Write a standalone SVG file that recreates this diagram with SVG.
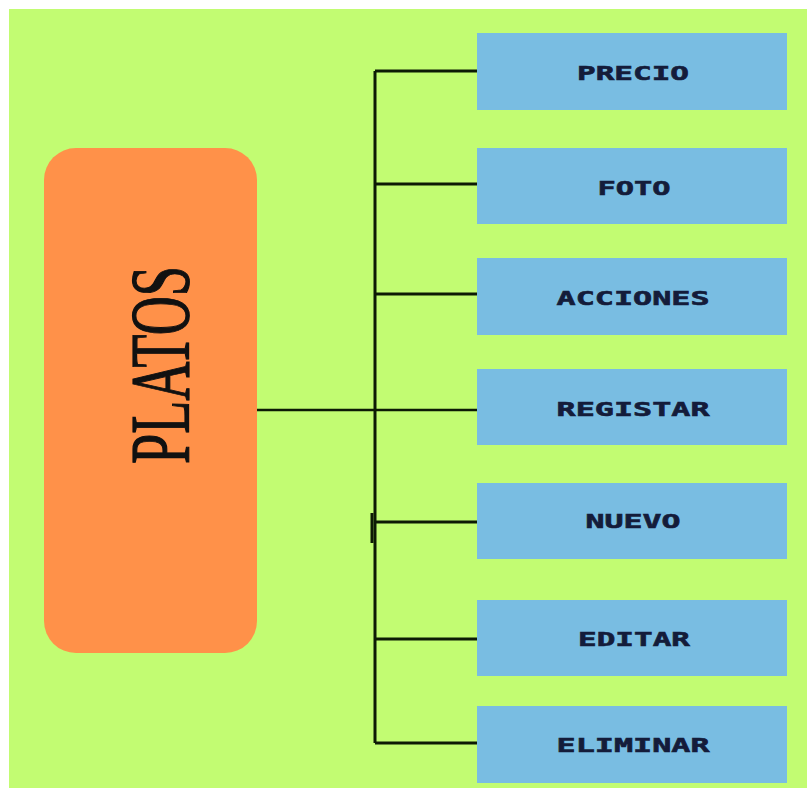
<svg xmlns="http://www.w3.org/2000/svg" width="807" height="789" viewBox="0 0 807 789">
<style>
.box{fill:#79bde2}
.lbl{font-family:"DejaVu Sans Mono","Liberation Mono",monospace;font-weight:bold;font-size:20px;fill:#141c3a;stroke:#141c3a;stroke-width:0.6;text-anchor:middle}
.ln{stroke:#0d1a05;stroke-width:3;fill:none}
</style>
<rect x="0" y="0" width="807" height="789" fill="#ffffff"/>
<rect x="9" y="9" width="798" height="779" fill="#c2fc72"/>
<g id="connectors">
<path class="ln" d="M375 71 V743 M375 71 H477 M375 184 H477 M375 294 H477 M375 522 H477 M375 639 H477 M375 743 H477"/>
<path class="ln" d="M257 410 H477" style="stroke-width:2.5"/>
<path class="ln" d="M372 513 V543" style="stroke-width:3"/>
</g>
<g id="platos">
<rect x="44" y="148" width="213" height="505" rx="32" fill="#ff9149"/>
<text transform="translate(189 365) rotate(-90)" text-anchor="middle" font-family="Liberation Serif, serif" font-size="84" fill="#111" stroke="#111" stroke-width="1.2" textLength="198" lengthAdjust="spacingAndGlyphs">PLATOS</text>
</g>
<g id="precio"><rect class="box" x="477" y="33" width="310" height="77"/><text class="lbl" x="633" y="80" textLength="112" lengthAdjust="spacingAndGlyphs">PRECIO</text></g>
<g id="foto"><rect class="box" x="477" y="148" width="310" height="76"/><text class="lbl" x="634" y="195" textLength="73" lengthAdjust="spacingAndGlyphs">FOTO</text></g>
<g id="acciones"><rect class="box" x="477" y="258" width="310" height="77"/><text class="lbl" x="633" y="305" textLength="153" lengthAdjust="spacingAndGlyphs">ACCIONES</text></g>
<g id="registar"><rect class="box" x="477" y="369" width="310" height="76"/><text class="lbl" x="633" y="416" textLength="153" lengthAdjust="spacingAndGlyphs">REGISTAR</text></g>
<g id="nuevo"><rect class="box" x="477" y="483" width="310" height="76"/><text class="lbl" x="633" y="528" textLength="95" lengthAdjust="spacingAndGlyphs">NUEVO</text></g>
<g id="editar"><rect class="box" x="477" y="600" width="310" height="76"/><text class="lbl" x="634" y="646" textLength="112" lengthAdjust="spacingAndGlyphs">EDITAR</text></g>
<g id="eliminar"><rect class="box" x="477" y="706" width="310" height="77"/><text class="lbl" x="633" y="752" textLength="153" lengthAdjust="spacingAndGlyphs">ELIMINAR</text></g>
</svg>
